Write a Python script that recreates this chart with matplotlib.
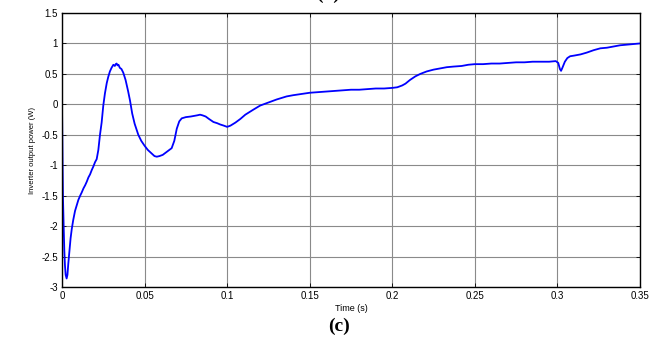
import matplotlib
matplotlib.use('Agg')
import matplotlib.pyplot as plt

# Inverter output power trace
time_s = [0.0, 0.0002, 0.0004, 0.0006, 0.0008, 0.0011, 0.0014, 0.0018, 0.0022, 0.0028,
          0.0033, 0.0038, 0.0045, 0.0052, 0.0059, 0.0068, 0.0079, 0.0090, 0.0099, 0.0110,
          0.0119, 0.0130, 0.0140, 0.0150, 0.0160, 0.0170, 0.0180, 0.0190, 0.0200, 0.0210,
          0.0220, 0.0230, 0.0240, 0.0250, 0.0260, 0.0271, 0.0280, 0.0290, 0.0300, 0.0311,
          0.0320, 0.0325, 0.0331, 0.0336, 0.0342, 0.0350, 0.0360, 0.0371, 0.0385, 0.0400,
          0.0412, 0.0425, 0.0440, 0.0462, 0.0480, 0.0500, 0.0520, 0.0540, 0.0560, 0.0574,
          0.0590, 0.0610, 0.0630, 0.0650, 0.0664, 0.0680, 0.0695, 0.0710, 0.0725, 0.0750,
          0.0780, 0.0800, 0.0820, 0.0836, 0.0850, 0.0870, 0.0890, 0.0917, 0.0940, 0.0957,
          0.0980, 0.1000, 0.1020, 0.1050, 0.1080, 0.1110, 0.1157, 0.1200, 0.1260, 0.1300,
          0.1360, 0.1400, 0.1450, 0.1500, 0.1550, 0.1600, 0.1650, 0.1700, 0.1750, 0.1800,
          0.1850, 0.1900, 0.1950, 0.2000, 0.2030, 0.2060, 0.2080, 0.2107, 0.2140, 0.2170,
          0.2208, 0.2250, 0.2289, 0.2330, 0.2370, 0.2420, 0.2460, 0.2500, 0.2550, 0.2600,
          0.2650, 0.2700, 0.2750, 0.2800, 0.2850, 0.2900, 0.2950, 0.2990, 0.3005, 0.3015,
          0.3022, 0.3030, 0.3045, 0.3060, 0.3077, 0.3100, 0.3140, 0.3178, 0.3220, 0.3260,
          0.3300, 0.3340, 0.3380, 0.3420, 0.3460, 0.3500]
power_w = [0.00, -0.60, -1.10, -1.55, -1.80, -2.10, -2.40, -2.65, -2.80, -2.86,
           -2.80, -2.62, -2.40, -2.20, -2.05, -1.90, -1.75, -1.65, -1.57, -1.50,
           -1.45, -1.38, -1.33, -1.27, -1.20, -1.15, -1.08, -1.02, -0.95, -0.90,
           -0.75, -0.50, -0.30, -0.02, 0.18, 0.35, 0.45, 0.54, 0.60, 0.65,
           0.63, 0.66, 0.67, 0.64, 0.65, 0.60, 0.58, 0.52, 0.40, 0.22,
           0.06, -0.15, -0.32, -0.50, -0.60, -0.68, -0.75, -0.80, -0.85, -0.86,
           -0.85, -0.83, -0.79, -0.75, -0.72, -0.60, -0.40, -0.28, -0.23, -0.21,
           -0.20, -0.19, -0.18, -0.17, -0.18, -0.20, -0.24, -0.29, -0.31, -0.33,
           -0.35, -0.37, -0.35, -0.30, -0.24, -0.17, -0.09, -0.02, 0.04, 0.08,
           0.13, 0.15, 0.17, 0.19, 0.20, 0.21, 0.22, 0.23, 0.24, 0.24,
           0.25, 0.26, 0.26, 0.27, 0.28, 0.31, 0.34, 0.40, 0.46, 0.50,
           0.54, 0.57, 0.59, 0.61, 0.62, 0.63, 0.65, 0.66, 0.66, 0.67,
           0.67, 0.68, 0.69, 0.69, 0.70, 0.70, 0.70, 0.71, 0.68, 0.58,
           0.55, 0.60, 0.70, 0.76, 0.79, 0.80, 0.82, 0.85, 0.89, 0.92,
           0.93, 0.95, 0.97, 0.98, 0.99, 1.00]

x_ticks = [0, 0.05, 0.1, 0.15, 0.2, 0.25, 0.3, 0.35]
x_tick_labels = ['0', '0.05', '0.1', '0.15', '0.2', '0.25', '0.3', '0.35']
y_ticks = [-3, -2.5, -2, -1.5, -1, -0.5, 0, 0.5, 1, 1.5]
y_tick_labels = ['-3', '-2.5', '-2', '-1.5', '-1', '-0.5', '0', '0.5', '1', '1.5']

plt.rcParams['font.family'] = ['Liberation Sans', 'DejaVu Sans']

fig = plt.figure(figsize=(6.61, 3.4), dpi=100)
ax = fig.add_axes([62 / 661, 53 / 340, 578 / 661, 274 / 340])

ax.plot(time_s, power_w, color='#0000ff', linewidth=1.3)

ax.set_xlim(0, 0.35)
ax.set_ylim(-3, 1.5)
ax.set_xticks(x_ticks)
ax.set_xticklabels(x_tick_labels)
ax.set_yticks(y_ticks)
ax.set_yticklabels(y_tick_labels)
ax.tick_params(direction='in', length=3, width=0.6, labelsize=7, pad=3,
               top=True, right=True)
ax.grid(True, color='#8a8a8a', linewidth=0.8, linestyle='-')
for s in ax.spines.values():
    s.set_linewidth(1.0)

ax.set_xlabel('Time (s)', fontsize=6.5, labelpad=2)
ax.set_ylabel('Inverter output power (W)', fontsize=5.5, labelpad=4)

# panel captions ((b) belongs to the panel above and is clipped in the source)
fig.text(328 / 661, 1.0 + 6 / 340, '(b)', ha='center', va='center',
         fontsize=14, fontweight='bold', family='Liberation Serif')
fig.text(339 / 661, 1 - 326 / 340, '(c)', ha='center', va='center',
         fontsize=14, fontweight='bold', family='Liberation Serif')

fig.savefig('out.png', dpi=100)
